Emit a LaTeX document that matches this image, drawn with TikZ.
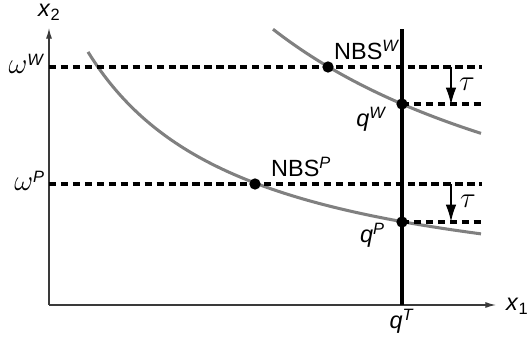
\documentclass[tikz,border=0pt]{standalone}
\usepackage{fontspec}
\setmainfont{Liberation Sans}
\usetikzlibrary{arrows.meta}
\definecolor{axisgray}{HTML}{3A3A3A}
\definecolor{curvegray}{HTML}{808080}
\newcommand{\bigomega}{{\fontsize{27}{30}\selectfont$\omega$}}

\begin{document}
\begin{tikzpicture}[
  x=0.03cm,y=-0.03cm,
  line cap=butt,line join=miter,
  font=\fontsize{20}{24}\selectfont,
  axis/.style={-{Latex[length=3.2mm,width=1.8mm]},line width=1.1pt,draw=axisgray},
  level/.style={line width=2.6pt,dash pattern=on 6.2pt off 4pt},
  curve/.style={line width=2.6pt,draw=curvegray},
  quota/.style={line width=2.8pt},
  dot/.style={circle,fill=black,inner sep=0pt,minimum size=3.4mm},
  shiftarrow/.style={-{Latex[length=5.2mm,width=3.2mm]},line width=1.8pt},
  taulab/.style={font=\fontsize{25}{28}\selectfont}
]
\useasboundingbox (0,0) rectangle (527,345);

% reference points
\coordinate (O) at (49,305);
\coordinate (xend) at (496,305);
\coordinate (yend) at (49,28);
\coordinate (wlev) at (49,67);
\coordinate (wend) at (482,67);
\coordinate (plev) at (49,184);
\coordinate (pend) at (482,184);
\coordinate (qT) at (402,305);
\coordinate (qTtop) at (402,29);
\coordinate (nbsW) at (328,67);
\coordinate (nbsP) at (255,184);
\coordinate (qW) at (402,104);
\coordinate (qP) at (402,222);
\coordinate (qWend) at (482,104);
\coordinate (qPend) at (482,222);
\coordinate (tauWtop) at (451,67);
\coordinate (tauWbot) at (451,105);
\coordinate (tauPtop) at (451,184);
\coordinate (tauPbot) at (451,222);

% axes
\draw[axis] (O) -- (xend);
\draw[axis] (O) -- (yend);

% indifference curves
\draw[curve] plot[domain=273:481,samples=80] (\x,{320.1-1085/(\x/100+1)});
\draw[curve] plot[domain=88:481,samples=100] (\x,{307-403/(\x/100+0.7)});

% levels and shifts
\draw[level] (wlev) -- (wend);
\draw[level] (plev) -- (pend);
\draw[level] (qW) -- (qWend);
\draw[level] (qP) -- (qPend);
\draw[quota] (qT) -- (qTtop);
\draw[shiftarrow] (tauWtop) -- (tauWbot);
\draw[shiftarrow] (tauPtop) -- (tauPbot);

% points
\node[dot] (nbsWdot) at (nbsW) {};
\node[dot] (nbsPdot) at (nbsP) {};
\node[dot] (qWdot) at (qW) {};
\node[dot] (qPdot) at (qP) {};

% labels
\node[anchor=base west,inner sep=0pt] (x2lab) at (38,17) {\textit{x}\textsubscript{2}};
\node[anchor=base west,inner sep=0pt] (x1lab) at (506,311) {\textit{x}\textsubscript{1}};
\node[anchor=base east,inner sep=0pt] (omWlab) at (45,74) {\bigomega\textsuperscript{\textit{W}}};
\node[anchor=base east,inner sep=0pt] (omPlab) at (45,191) {\bigomega\textsuperscript{\textit{P}}};
\node[anchor=base west,inner sep=0pt] (nbsWlab) at (334,60) {NBS\textsuperscript{\textit{W}}};
\node[anchor=base west,inner sep=0pt] (nbsPlab) at (271,177) {NBS\textsuperscript{\textit{P}}};
\node[anchor=base east,inner sep=0pt] (qWlab) at (387,127) {\textit{q}\textsuperscript{\textit{W}}};
\node[anchor=base east,inner sep=0pt] (qPlab) at (385,243) {\textit{q}\textsuperscript{\textit{P}}};
\node[anchor=base,inner sep=0pt] (qTlab) at (402,329) {\textit{q}\textsuperscript{\textit{T}}};
\node[taulab] (tauWlab) at (467,84) {$\tau$};
\node[taulab] (tauPlab) at (468,201) {$\tau$};
\end{tikzpicture}
\end{document}
